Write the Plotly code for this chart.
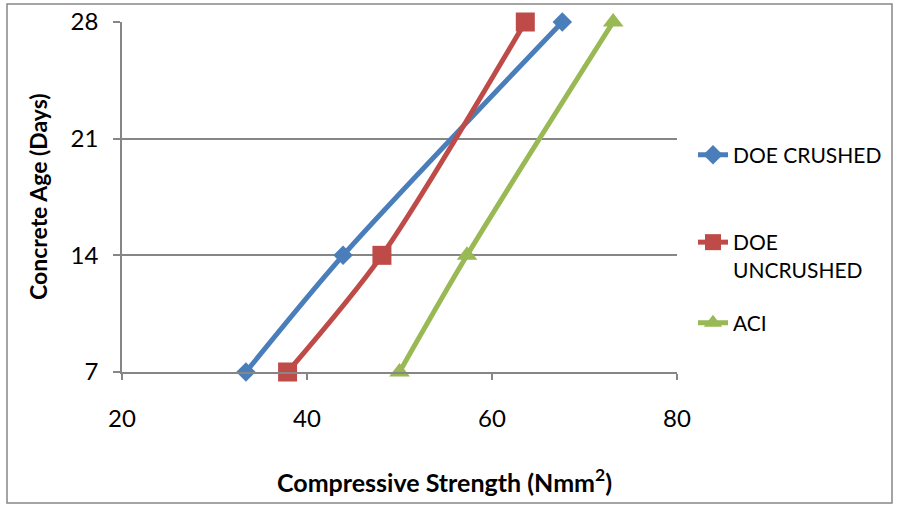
import plotly.graph_objects as go

# Data
ages = [7, 14, 21, 28]
age_points = [7, 14, 28]
doe_crushed = [33.4, 43.9, 67.6]
doe_uncrushed = [37.9, 48.1, 63.6]
aci = [50.0, 57.3, 73.1]
x_ticks = [20, 40, 60, 80]

W, H = 897, 506
PL, PR, PT, PB = 122, 677, 22, 372  # plot area in pixels
pw, ph = PR - PL, PB - PT


def px_x(p):
    return (p - PL) / pw


def px_y(p):
    return (PB - p) / ph


GRID = "#868686"
FONT = "Lato"

fig = go.Figure()
series = [
    ("DOE CRUSHED", doe_crushed, "#4A7EBB", "diamond", 15, "legend"),
    ("DOE<br>UNCRUSHED", doe_uncrushed, "#BE4B48", "square", 19, "legend2"),
    ("ACI", aci, "#98B954", "triangle-up", 18, "legend3"),
]
for name, xs, color, sym, size, lg in series:
    fig.add_trace(go.Scatter(
        x=xs, y=age_points, name=name, mode="lines+markers",
        line=dict(color=color, width=5, shape="spline", smoothing=0.8),
        marker=dict(symbol=sym, size=size, color=color, line=dict(width=0)),
        cliponaxis=False, legend=lg,
    ))

legend_common = dict(font=dict(family=FONT, size=21, color="black"),
                     bgcolor="rgba(0,0,0,0)", borderwidth=0,
                     xanchor="left", x=px_x(693), valign="top")

fig.update_layout(
    width=W, height=H,
    margin=dict(l=PL, r=W - PR, t=PT, b=H - PB, autoexpand=False),
    paper_bgcolor="white", plot_bgcolor="white",
    showlegend=True,
    legend=dict(**legend_common, yanchor="middle", y=px_y(155)),
    legend2=dict(**legend_common, yanchor="middle", y=px_y(256)),
    legend3=dict(**legend_common, yanchor="middle", y=px_y(323)),
)

fig.update_xaxes(
    range=[20, 80], tickvals=x_ticks, ticktext=[str(v) for v in x_ticks],
    ticks="outside", ticklen=6, tickwidth=1.5, tickcolor=GRID,
    showline=True, linecolor=GRID, linewidth=1.5,
    showgrid=False, zeroline=False,
    tickfont=dict(family=FONT, size=24, color="black"),
    ticklabelstandoff=18,
)
fig.update_yaxes(
    range=[7, 28], tickvals=ages, ticktext=[str(v) for v in ages],
    ticks="outside", ticklen=7, tickwidth=1.5, tickcolor=GRID,
    showline=True, linecolor=GRID, linewidth=1.5,
    showgrid=True, gridcolor=GRID, gridwidth=1.5, zeroline=False,
    tickfont=dict(family=FONT, size=24, color="black"),
    ticklabelstandoff=10,
)

fig.add_annotation(
    text="Concrete Age (Days)", textangle=-90, showarrow=False,
    xref="paper", yref="paper", x=px_x(38), y=px_y(197),
    xanchor="center", yanchor="middle",
    font=dict(family=FONT, size=23, color="black", weight="bold"),
)
fig.add_annotation(
    text="Compressive Strength (Nmm<sup>2</sup>)", showarrow=False,
    xref="paper", yref="paper", x=px_x(444), y=px_y(480),
    xanchor="center", yanchor="middle",
    font=dict(family=FONT, size=25, color="black", weight="bold"),
)

# outer chart border
fig.add_shape(
    type="rect", xref="paper", yref="paper",
    x0=px_x(7), x1=px_x(892), y0=px_y(503), y1=px_y(4),
    line=dict(color=GRID, width=1.5), fillcolor="rgba(0,0,0,0)", layer="below",
)

fig.write_html(
    "out.html",
    config={"displayModeBar": False},
    post_script="document.body.style.margin='0';document.body.style.overflow='hidden';",
)
